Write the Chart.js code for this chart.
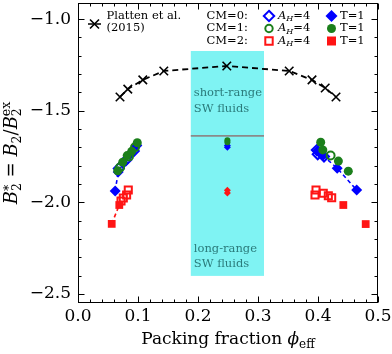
<!DOCTYPE html>
<html>
<head>
<meta charset="utf-8">
<script src="https://cdn.jsdelivr.net/npm/chart.js@4.4.0/dist/chart.umd.min.js"></script>
<style>
  html, body { margin: 0; padding: 0; background: #fff; }
  #wrap { width: 392px; height: 354px; }
</style>
</head>
<body>
<div id="wrap"><canvas id="chart" width="392" height="354"></canvas></div>
<script>
const SERIF = '"DejaVu Serif", serif';
const BLUE = '#0000ff', GREEN = '#1b7f1b', RED = '#ff1414', CYAN = '#7ff3f3', TEAL = '#2b7b7b';

// Platten et al. (2015)
const plattenX = [0.070, 0.083, 0.108, 0.143, 0.248, 0.352, 0.390, 0.412, 0.430];
const plattenY = [-1.425, -1.382, -1.332, -1.283, -1.256, -1.283, -1.332, -1.376, -1.425];

// CM=0 (blue diamonds)
const cm0AhX = [0.068, 0.080, 0.093, null, 0.398, 0.3995, 0.410];
const cm0AhY = [-1.815, -1.770, -1.720, null, -1.715, -1.738, -1.750];
const cm0TX = [0.062, 0.067, 0.076, 0.088, 0.098, null, 0.399, 0.408, 0.432, 0.4645];
const cm0TY = [-1.938, -1.835, -1.785, -1.735, -1.690, null, -1.720, -1.745, -1.814, -1.933];

// CM=1 (green circles)
const cm1AhX = [0.070, 0.085, 0.095, 0.421];
const cm1AhY = [-1.810, -1.750, -1.700, -1.745];
const cm1TX = [0.0662, 0.0745, 0.082, 0.0895, 0.0988, 0.4045, 0.408, 0.434, 0.4505];
const cm1TY = [-1.828, -1.781, -1.745, -1.722, -1.675, -1.672, -1.714, -1.775, -1.830];

// CM=2 (red squares)
const cm2AhX = [0.0838, 0.081, 0.0755, 0.0717, 0.3967, 0.395, 0.4088, 0.4172, 0.4228];
const cm2AhY = [-1.933, -1.960, -1.977, -1.993, -1.933, -1.960, -1.951, -1.964, -1.975];
const cm2TX = [0.0562, 0.0688, null, 0.4422, 0.4795];
const cm2TY = [-2.118, -2.015, null, -2.015, -2.119];

// points at phi = 0.25 inside the band
const midX = [0.249, 0.249];
const midGreenY = [-1.662, -1.672];
const midBlueY = [-1.690, -1.700];
const midRedY = [-1.935, -1.950];

// ticks
const xTickVals = [0, 0.1, 0.2, 0.3, 0.4, 0.5];
const xTickLabels = ['0.0', '0.1', '0.2', '0.3', '0.4', '0.5'];
const yTickVals = [-1.0, -1.5, -2.0, -2.5];
const yTickLabels = ['\u22121.0', '\u22121.5', '\u22122.0', '\u22122.5'];

// shaded region
const bandX = [0.188, 0.31];
const bandY = [-2.402, -1.174];
const dividerY = -1.638;

function pts(xs, ys) {
  return xs.map((x, i) => ({ x: x, y: ys[i] }));
}

function marker(ctx, style, x, y, r, color, filled, lw) {
  ctx.save();
  ctx.strokeStyle = color;
  ctx.fillStyle = color;
  ctx.lineWidth = lw;
  ctx.beginPath();
  if (style === 'circle') {
    ctx.arc(x, y, r, 0, Math.PI * 2);
  } else if (style === 'diamond') {
    ctx.moveTo(x, y - r); ctx.lineTo(x + r, y); ctx.lineTo(x, y + r); ctx.lineTo(x - r, y); ctx.closePath();
  } else if (style === 'square') {
    ctx.rect(x - r, y - r, 2 * r, 2 * r);
  } else if (style === 'cross') {
    ctx.moveTo(x - r, y - r); ctx.lineTo(x + r, y + r);
    ctx.moveTo(x + r, y - r); ctx.lineTo(x - r, y + r);
    ctx.stroke(); ctx.restore(); return;
  }
  if (filled) ctx.fill(); else ctx.stroke();
  ctx.restore();
}

// lays out text pieces (normal, sub, sup) and returns width + draw function
function runs(ctx, list) {
  let cx = 0, lastX = 0;
  const placed = [];
  for (const [t, f, dy, stack] of list) {
    ctx.font = f;
    const w = ctx.measureText(t).width;
    let sx;
    if (stack) { sx = lastX; cx = Math.max(cx, sx + w); }
    else { sx = cx; cx += w; }
    placed.push([t, f, dy, sx]);
    lastX = sx;
  }
  return {
    width: cx,
    draw(ox, oy) {
      for (const [t, f, dy, sx] of placed) { ctx.font = f; ctx.fillText(t, ox + sx, oy + dy); }
    }
  };
}

const bandPlugin = {
  id: 'band',
  beforeDatasetsDraw(chart) {
    const { ctx, scales: { x, y } } = chart;
    const l = x.getPixelForValue(bandX[0]), r = x.getPixelForValue(bandX[1]);
    const t = y.getPixelForValue(bandY[1]), b = y.getPixelForValue(bandY[0]);
    ctx.save();
    ctx.fillStyle = CYAN;
    ctx.fillRect(l, t, r - l, b - t);
    const dy = y.getPixelForValue(dividerY);
    ctx.strokeStyle = '#8a8a8a';
    ctx.lineWidth = 1.8;
    ctx.beginPath(); ctx.moveTo(l, dy); ctx.lineTo(r, dy); ctx.stroke();
    ctx.fillStyle = TEAL;
    ctx.font = '11.5px ' + SERIF;
    ctx.textBaseline = 'middle';
    ctx.textAlign = 'left';
    ctx.fillText('short-range', l + 3, t + 42);
    ctx.fillText('SW fluids', l + 3, t + 58);
    ctx.fillText('long-range', l + 3, b - 27);
    ctx.fillText('SW fluids', l + 3, b - 12);
    ctx.restore();
  }
};

const framePlugin = {
  id: 'frame',
  afterDraw(chart) {
    const { ctx, chartArea: a, scales: { x, y } } = chart;
    ctx.save();
    ctx.strokeStyle = '#000';
    ctx.lineWidth = 1;
    const L = Math.round(a.left) + 0.5, R = Math.round(a.right) - 0.5;
    const T = Math.round(a.top) + 0.5, B = Math.round(a.bottom) - 0.5;
    ctx.strokeRect(L, T, R - L, B - T);
    ctx.beginPath();
    for (let i = 0; i <= 25; i++) {
      const v = i * 0.02;
      const len = i % 5 === 0 ? 6 : 3;
      const px = Math.round(x.getPixelForValue(v)) + 0.5;
      ctx.moveTo(px, B); ctx.lineTo(px, B - len);
      ctx.moveTo(px, T); ctx.lineTo(px, T + len);
    }
    for (let i = 0; i <= 15; i++) {
      const v = -2.5 + i * 0.1;
      const len = i % 5 === 0 ? 6 : 3;
      const py = Math.round(y.getPixelForValue(v)) + 0.5;
      ctx.moveTo(L, py); ctx.lineTo(L + len, py);
      ctx.moveTo(R, py); ctx.lineTo(R - len, py);
    }
    ctx.stroke();

    // axis titles
    ctx.fillStyle = '#000';
    ctx.textBaseline = 'alphabetic';
    const r17 = '17px ' + SERIF, i17 = 'italic 17px ' + SERIF, r12 = '12px ' + SERIF;
    const xt = runs(ctx, [['Packing fraction ', r17, 0], ['\u03d5', i17, 0], ['eff', r12, 4]]);
    xt.draw((a.left + a.right) / 2 - xt.width / 2, 344);
    const r18 = '18px ' + SERIF, i18 = 'italic 18px ' + SERIF, r13 = '12.5px ' + SERIF;
    const yt = runs(ctx, [
      ['B', i18, 0], ['2', r13, 4], ['*', r13, -4, true], [' = ', r18, 0],
      ['B', i18, 0], ['2', r13, 4], ['/', r18, 0],
      ['B', i18, 0], ['2', r13, 4], ['ex', r13, -7.5, true]
    ]);
    ctx.save();
    ctx.translate(17, (a.top + a.bottom) / 2);
    ctx.rotate(-Math.PI / 2);
    yt.draw(-yt.width / 2, 0);
    ctx.restore();

    // legend
    const f = '11.5px ' + SERIF, fi = 'italic 11.5px ' + SERIF, fs = 'italic 8px ' + SERIF;
    ctx.textBaseline = 'middle';
    ctx.strokeStyle = '#000'; ctx.lineWidth = 1.5;
    ctx.beginPath(); ctx.moveTo(88, 24); ctx.lineTo(101, 24); ctx.stroke();
    marker(ctx, 'cross', 94.5, 24, 4.5, '#000', false, 1.6);
    ctx.fillStyle = '#000';
    ctx.font = f;
    ctx.fillText('Platten et al.', 106.5, 16);
    ctx.fillText('(2015)', 106.5, 28);
    const rows = [
      ['CM=0:', 'diamond', BLUE, 6],
      ['CM=1:', 'circle', GREEN, 4.5],
      ['CM=2:', 'square', RED, 4.5]
    ];
    rows.forEach(([lab, st, col, r], i) => {
      const yy = 16 + i * 12.5;
      ctx.fillStyle = '#000';
      ctx.font = f;
      ctx.fillText(lab, 206.5, yy);
      marker(ctx, st, 269, yy, r - 0.8, col, false, 2);
      ctx.fillStyle = '#000';
      const ah = runs(ctx, [['A', fi, 0], ['H', fs, 3], ['=4', f, 0]]);
      ah.draw(278, yy);
      marker(ctx, st, 331.5, yy, r, col, true, 1);
      ctx.fillStyle = '#000';
      ctx.font = f;
      ctx.fillText('T=1', 340, yy);
    });
    ctx.restore();
  }
};

new Chart(document.getElementById('chart'), {
  type: 'scatter',
  data: {
    datasets: [
      { data: pts(cm1TX, cm1TY), pointStyle: 'circle', pointRadius: 4.5, backgroundColor: GREEN, borderColor: GREEN, pointBorderWidth: 0 },
      { data: pts(cm1AhX, cm1AhY), pointStyle: 'circle', pointRadius: 4, backgroundColor: 'rgba(0,0,0,0)', borderColor: GREEN, pointBorderWidth: 2 },
      { data: pts(cm0TX, cm0TY), pointStyle: 'rectRot', pointRadius: 5.5, backgroundColor: BLUE, borderColor: BLUE, pointBorderWidth: 0,
        showLine: true, borderWidth: 1.6, borderDash: [4, 3] },
      { data: pts(cm0AhX, cm0AhY), pointStyle: 'rectRot', pointRadius: 5, backgroundColor: 'rgba(0,0,0,0)', borderColor: BLUE, pointBorderWidth: 2 },
      { data: pts(cm2AhX, cm2AhY), pointStyle: 'rect', pointRadius: 5, backgroundColor: 'rgba(0,0,0,0)', borderColor: RED, pointBorderWidth: 2 },
      { data: pts(cm2TX, cm2TY), pointStyle: 'rect', pointRadius: 5.5, backgroundColor: RED, borderColor: RED, pointBorderWidth: 0,
        showLine: true, borderWidth: 1.6, borderDash: [4, 3],
        segment: { borderColor: c => c.p0.parsed.x > 0.25 ? 'rgba(0,0,0,0)' : RED } },
      { data: pts(midX, midGreenY), pointStyle: 'circle', pointRadius: 3, backgroundColor: GREEN, borderColor: GREEN, pointBorderWidth: 0 },
      { data: pts(midX, midBlueY), pointStyle: 'rectRot', pointRadius: 3.5, backgroundColor: BLUE, borderColor: BLUE, pointBorderWidth: 0 },
      { data: pts(midX, midRedY), pointStyle: 'rectRot', pointRadius: 3.5, backgroundColor: RED, borderColor: RED, pointBorderWidth: 0 },
      { data: pts(plattenX, plattenY), pointStyle: 'crossRot', pointRadius: 6, borderColor: '#000', backgroundColor: '#000',
        pointBorderWidth: 1.6, showLine: true, borderWidth: 1.8, borderDash: [6, 4] }
    ]
  },
  options: {
    responsive: false,
    animation: false,
    devicePixelRatio: 1,
    layout: { autoPadding: false, padding: { top: 3, right: 14, left: 0, bottom: 0 } },
    plugins: { legend: { display: false }, tooltip: { enabled: false } },
    scales: {
      x: {
        type: 'linear', min: 0, max: 0.5,
        grid: { display: false, drawTicks: false },
        border: { display: false },
        afterBuildTicks: s => { s.ticks = xTickVals.map(v => ({ value: v })); },
        afterFit: s => { s.height = 51; s.paddingLeft = 0; s.paddingRight = 0; },
        ticks: { padding: 3, color: '#000', font: { family: SERIF, size: 17 }, maxRotation: 0,
          callback: (v, i) => xTickLabels[i] }
      },
      y: {
        type: 'linear', min: -2.55, max: -0.912,
        grid: { display: false, drawTicks: false },
        border: { display: false },
        afterBuildTicks: s => { s.ticks = yTickVals.map(v => ({ value: v })); },
        afterFit: s => { s.width = 78; s.paddingTop = 0; s.paddingBottom = 0; },
        ticks: { padding: 7, color: '#000', font: { family: SERIF, size: 17 },
          callback: (v, i) => yTickLabels[i] }
      }
    }
  },
  plugins: [bandPlugin, framePlugin]
});
</script>
</body>
</html>
